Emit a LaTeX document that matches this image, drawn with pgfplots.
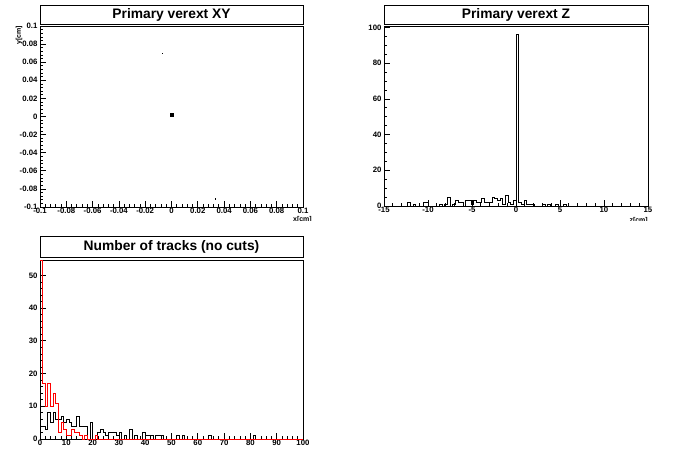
\documentclass[border=0pt]{standalone}
\usepackage{fontspec}
\setmainfont{Liberation Sans}
\usepackage{pgfplots}
\pgfplotsset{compat=1.18}

% ROOT-like pad style: frame, inward ticks on bottom/left only
\pgfplotsset{
  rootpad/.style={
    scale only axis, anchor=south west,
    axis line style={line width=0.8pt},
    tick align=inside, xtick pos=left, ytick pos=left,
    major tick length=6pt, minor tick length=3pt,
    every tick/.style={black, line width=0.7pt},
    ticklabel style={font=\bfseries\fontsize{7.8}{8}\selectfont},
    /pgf/number format/assume math mode=true,
    scaled ticks=false,
    xticklabel style={yshift=2pt},
    yticklabel style={xshift=1pt},
  },
  hist/.style={const plot, line width=0.8pt},
}

\begin{document}
\begin{tikzpicture}
\useasboundingbox[fill=white] (0pt,0pt) rectangle (689pt,467pt);

% ---- pad 1: primary vertex XY ----
\begin{axis}[rootpad, at={(40pt,260pt)}, width=263pt, height=181pt,
    xmin=-0.1, xmax=0.1, ymin=-0.1, ymax=0.1,
    xtick={-0.1,-0.08,...,0.1}, ytick={-0.1,-0.08,...,0.1},
    minor tick num=4,
    /pgf/number format/fixed, /pgf/number format/precision=2]
\addplot[only marks, mark=square*, mark size=1.5pt] coordinates {(0.0005,0.0015)};
\addplot[only marks, mark=square*, mark size=0.35pt] coordinates {(-0.0071,0.0699) (0.0332,-0.0907)};
\end{axis}
\draw[line width=0.8pt, fill=white] (40pt,443pt) rectangle (303pt,462pt);
\node[font=\bfseries\fontsize{13.8}{14}\selectfont] at (171.5pt,452.5pt) {Primary verext XY};
\node[rotate=90, anchor=east, font=\bfseries\fontsize{7}{7}\selectfont, inner sep=0pt] at (19pt,441pt) {y[cm]};
\begin{scope}
\clip (0pt,247pt) rectangle (689pt,467pt);
\node[anchor=north east, font=\bfseries\fontsize{7}{7}\selectfont, inner sep=0pt] at (312pt,251pt) {x[cm]};
\node[anchor=north east, font=\bfseries\fontsize{7}{7}\selectfont, inner sep=0pt] at (648pt,250pt) {z[cm]};
\end{scope}

% ---- pad 2: primary vertex Z ----
\begin{axis}[rootpad, at={(384pt,261pt)}, width=264pt, height=180pt,
    xmin=-15, xmax=15, ymin=0, ymax=100.8,
    xtick={-15,-10,...,15}, ytick={0,20,...,100},
    minor x tick num=4, minor y tick num=3, clip=false]
\addplot[hist, black] table {
x y
-15 0
-12.3 2
-12.0 0
-11.7 1
-11.4 0
-10.5 2
-9.9 0
-8.7 1
-8.4 0
-8.1 1
-7.8 5
-7.5 0
-7.2 1
-6.9 3
-6.6 2
-6.0 0
-5.7 3
-5.1 1
-4.8 3
-4.5 2
-3.9 4
-3.6 2
-2.7 5
-2.4 4
-2.1 3
-1.8 4
-1.5 1
-1.2 6
-0.9 2
-0.6 1
-0.3 3
0 96
0.3 2
0.6 1
0.9 3
1.2 1
2.1 0
3.0 1
3.3 0
3.6 1
3.9 0
4.5 1
4.8 0
5.4 1
5.7 0
15 0
};
\end{axis}
\draw[line width=0.8pt, fill=white] (384pt,443pt) rectangle (648pt,462pt);
\node[font=\bfseries\fontsize{13.8}{14}\selectfont] at (516pt,452.5pt) {Primary verext Z};

% ---- pad 3: number of tracks ----
\begin{axis}[rootpad, at={(40pt,28pt)}, width=263pt, height=179pt,
    xmin=0, xmax=100, ymin=0, ymax=54.7,
    xtick={0,10,...,100}, ytick={0,10,...,50},
    minor tick num=4, clip=false]
\addplot[hist, black] table {
x y
0 4
2 3
3 8
4 5
5 8
6 6
8 7
9 5
10 6
11 5
12 4
14 7
15 4
18 0
19 5
20 0
21 1
22 2
23 3
24 2
25 1
26 2
29 1
30 2
31 0
32 1
33 0
34 3
35 0
36 1
37 0
39 2
40 1
43 0
44 1
47 0
52 1
53 0
54 1
55 0
64 1
65 0
81 1
82 0
100 0
};
\addplot[hist, red, restrict y to domain*=0:54.7] table {
x y
0 60
1 17
2 10
3 17
4 10
5 14
6 11
7 2
8 5
9 3
10 1
12 3
13 2
15 1
16 0
17 1
18 0
21 1
22 0
100 0
};
\end{axis}
\draw[line width=0.8pt, fill=white] (40pt,210pt) rectangle (303pt,231pt);
\node[font=\bfseries\fontsize{13.8}{14}\selectfont] at (171.5pt,220.5pt) {Number of tracks (no cuts)};
\end{tikzpicture}
\end{document}
